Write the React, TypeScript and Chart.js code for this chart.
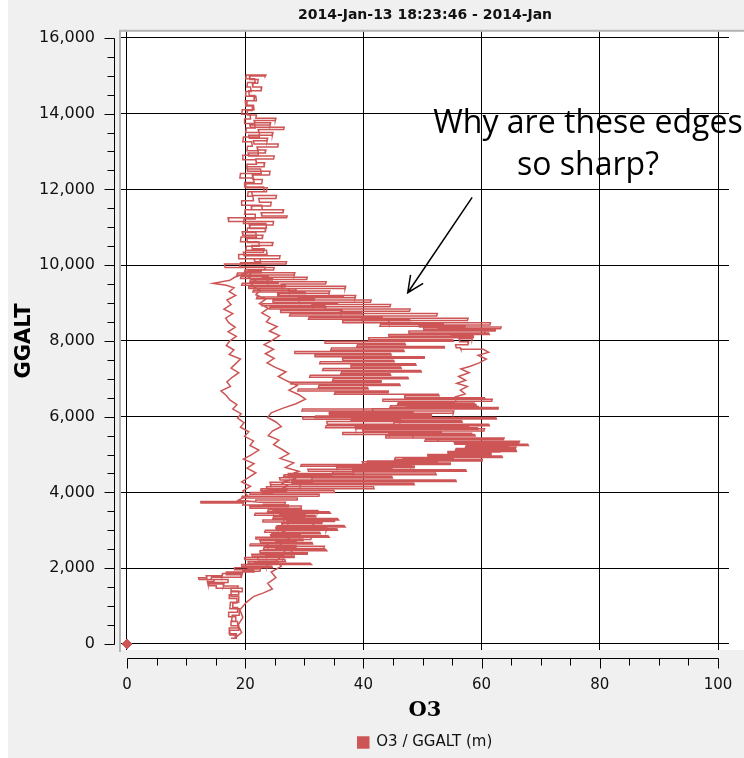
import React, { useEffect, useRef } from "react";
import { Chart, registerables } from "chart.js";

Chart.register(...registerables);

const chartTitle = "2014-Jan-13 18:23:46 - 2014-Jan";
const xAxisTitle = "O3";
const yAxisTitle = "GGALT";
const seriesLabel = "O3 / GGALT (m)";
const xTickValues = [0, 20, 40, 60, 80, 100];
const yTickValues = [0, 2000, 4000, 6000, 8000, 10000, 12000, 14000, 16000];
const xMinorTicks = [5, 10, 15, 25, 30, 35, 45, 50, 55, 65, 70, 75, 85, 90, 95];
const yMinorTicks = [500, 1000, 1500, 2500, 3000, 3500, 4500, 5000, 5500, 6500, 7000, 7500, 8500, 9000, 9500, 10500, 11000, 11500, 12500, 13000, 13500, 14500, 15000, 15500];
const originMarker: [number, number][] = [[0, 0]];
const noteLines = ["Why are these edges", "so sharp?"];
const noteO3 = 78;
const noteAlts = [13483, 12371];
const arrowFrom: [number, number] = [58.4, 11788];
const arrowTo: [number, number] = [47.5, 9272];

// [O3, GGALT]  — climb out near the ground
const legGround: [number, number][] = [
  [17.6,150],[18.5,150],[18.5,270],[17.3,270],[17.3,420],[18.8,420],[18.7,590],[17.7,590],[17.8,760],[19.1,760],
  [19.0,930],[17.4,930],[17.5,1100],[18.9,1100],[18.9,1250],[17.6,1250],[17.6,1380],[19.6,1380],[19.5,1470],[15.2,1470],
  [15.1,1540],[13.8,1540],[13.9,1620],[17.2,1620],[17.1,1700],[14.2,1700],[14.3,1760],[19.4,1760],[19.3,1830],[16.8,1830],
  [16.8,1900],[21.5,1900],[21.4,1960],[18.2,1960],
];

// lower troposphere, 2 to 3.8 km
const legLowFill: [number, number][] = [
  [18.2,2010],[24.6,2010],[24.5,2050],[19.3,2050],[19.4,2100],[31.2,2100],[31.0,2130],[20.6,2130],[20.5,2180],[26.8,2180],
  [26.7,2230],[19.8,2230],[19.9,2280],[28.4,2280],[28.3,2320],[21.2,2320],[21.1,2370],[30.6,2370],[30.5,2410],[22.4,2410],
  [22.5,2460],[33.8,2460],[33.6,2500],[23.1,2500],[23.2,2550],[28.7,2550],[28.6,2590],[20.8,2590],[20.9,2640],[31.4,2640],
  [31.3,2680],[22.6,2680],[22.5,2730],[29.9,2730],[29.8,2770],[21.7,2770],[21.8,2820],[34.2,2820],[34.0,2860],[24.4,2860],
  [24.5,2910],[32.7,2910],[32.6,2950],[23.3,2950],[23.4,3000],[35.6,3000],[35.5,3040],[25.1,3040],[25.2,3090],[36.9,3090],
  [36.7,3130],[26.3,3130],[26.2,3180],[33.1,3180],[33.0,3220],[22.9,3220],[23.0,3270],[35.8,3270],[35.6,3310],[24.7,3310],
  [24.8,3360],[31.9,3360],[31.8,3400],[21.6,3400],[21.7,3450],[34.4,3450],[34.2,3490],[23.8,3490],[23.9,3540],[29.6,3540],
  [29.5,3580],[20.7,3580],[20.8,3630],[27.4,3630],[27.3,3670],[19.6,3670],[19.7,3720],[12.4,3720],[12.5,3760],[21.8,3760],
];

// main climb through the ozone-rich layer
const legMidClimb: [number, number][] = [
  [21.8,3800],[28.9,3800],[28.8,3850],[19.4,3850],[19.5,3900],[32.6,3900],[32.5,3950],[20.8,3950],[20.9,4000],[35.1,4000],
  [35.0,4050],[22.6,4050],[22.7,4100],[41.8,4100],[41.7,4150],[24.3,4150],[24.4,4200],[48.6,4200],[48.5,4240],[27.8,4240],
  [27.9,4290],[55.7,4290],[55.6,4330],[31.2,4330],[31.3,4380],[44.9,4380],[44.8,4420],[26.5,4420],[26.6,4470],[52.3,4470],
  [52.2,4510],[34.7,4510],[34.8,4560],[57.4,4560],[57.3,4600],[38.1,4600],[38.2,4650],[48.7,4650],[48.6,4690],[29.4,4690],
  [29.5,4740],[54.8,4740],[54.7,4780],[40.6,4780],[40.7,4830],[60.2,4830],[60.1,4870],[45.3,4870],[45.4,4920],[63.5,4920],
  [63.4,4960],[50.8,4960],[50.9,5000],[61.7,5000],[61.6,5040],[54.2,5040],[54.3,5080],[65.9,5080],[65.8,5120],[55.6,5120],
  [55.7,5160],[64.1,5160],[64.0,5200],[57.3,5200],[57.4,5240],[67.9,5240],[67.8,5270],[56.8,5270],[56.9,5310],[65.2,5310],
  [65.1,5350],[50.4,5350],[50.5,5400],[62.6,5400],[62.5,5440],[43.7,5440],[43.8,5490],[58.9,5490],[58.8,5530],[36.4,5530],
  [36.5,5580],[53.2,5580],[53.1,5620],[39.8,5620],[39.9,5670],[59.4,5670],[59.3,5710],[33.6,5710],[33.7,5760],[61.3,5760],
  [61.2,5800],[45.1,5800],[45.2,5850],[56.7,5850],[56.6,5890],[37.9,5890],[38.0,5940],[62.5,5940],[62.4,5980],[31.8,5980],
  [31.9,6020],[51.6,6020],[51.5,6060],[34.2,6060],[34.3,6110],[48.4,6110],[48.3,6150],[29.6,6150],[29.7,6200],[62.9,6200],
  [62.8,6240],[44.5,6240],[44.6,6290],[59.1,6290],[59.0,6330],[45.8,6330],[45.9,6370],[55.4,6370],[55.3,6410],[43.2,6410],
  [43.3,6460],[60.6,6460],[60.5,6500],[46.9,6500],[47.0,6550],[52.8,6550],[52.7,6590],[35.1,6590],[35.2,6640],[44.3,6640],
  [44.2,6680],[28.9,6680],[29.0,6730],[40.8,6730],[40.7,6770],[32.4,6770],[32.5,6820],[46.2,6820],[46.1,6860],[27.6,6860],
  [27.7,6910],[43.1,6910],[43.0,6950],[34.8,6950],[34.9,7000],[47.6,7000],[47.5,7040],[30.9,7040],[31.0,7090],[44.6,7090],
  [44.5,7130],[36.2,7130],[36.3,7180],[49.8,7180],[49.7,7220],[33.1,7220],[33.2,7270],[46.4,7270],[46.3,7310],[37.8,7310],
  [37.9,7360],[48.9,7360],[48.8,7400],[32.6,7400],[32.7,7450],[45.2,7450],[45.1,7490],[36.4,7490],[36.5,7540],[50.4,7540],
  [50.3,7580],[31.7,7580],[31.8,7630],[44.7,7630],[44.6,7670],[28.3,7670],[28.4,7720],[46.9,7720],[46.8,7760],[34.5,7760],
  [34.6,7810],[53.8,7810],[53.7,7850],[38.9,7850],[39.0,7900],[47.1,7900],[47.0,7940],[33.4,7940],[33.5,7990],[55.2,7990],
  [55.1,8030],[40.8,8030],[40.9,8080],[58.7,8080],[58.6,8120],[44.2,8120],[44.3,8170],[61.3,8170],[61.2,8210],[47.6,8210],
  [47.7,8260],[62.4,8260],[62.3,8300],[50.1,8300],[50.2,8350],[57.3,8350],[57.2,8390],[42.8,8390],[42.9,8440],[53.6,8440],
  [53.5,8480],[36.4,8480],[36.5,8530],[47.9,8530],[47.8,8570],[30.7,8570],[30.8,8620],[43.2,8620],[43.1,8660],[27.5,8660],
  [27.6,8710],[39.8,8710],[39.7,8750],[25.9,8750],[26.0,8800],[36.4,8800],[36.3,8840],[24.1,8840],[24.2,8890],[33.6,8890],
  [33.5,8930],[22.8,8930],[22.9,8980],[35.7,8980],[35.6,9020],[24.6,9020],[24.7,9070],[31.8,9070],[31.7,9110],[21.9,9110],
  [22.0,9160],[36.6,9160],[36.5,9200],[25.4,9200],[25.5,9250],[30.2,9250],[30.1,9290],[21.3,9290],[21.4,9340],[28.7,9340],
  [28.6,9380],[20.5,9380],[20.6,9430],[26.9,9430],[26.8,9470],[19.4,9470],[19.5,9520],[25.6,9520],[25.5,9560],[20.8,9560],
  [20.9,9610],[24.7,9610],[24.6,9650],[19.2,9650],[19.3,9700],[23.9,9700],[23.8,9740],[18.6,9740],[18.7,9790],[22.8,9790],
  [22.7,9830],[19.9,9830],[20.0,9880],[23.4,9880],
];

// upper climb to ceiling
const legUpperClimb: [number, number][] = [
  [23.3,9950],[19.1,9950],[19.2,10060],[22.6,10060],[22.5,10170],[18.8,10170],[18.9,10280],[23.7,10280],[23.6,10390],[20.1,10390],
  [20.2,10500],[22.4,10500],[22.3,10620],[19.2,10620],[19.3,10740],[21.9,10740],[21.8,10860],[20.3,10860],[20.4,10980],[23.6,10980],
  [23.5,11100],[19.7,11100],[19.8,11220],[21.8,11220],[21.7,11340],[19.9,11340],[20.0,11460],[22.9,11460],[22.8,11580],[19.3,11580],
  [19.4,11700],[21.4,11700],[21.3,11820],[20.4,11820],[20.5,11940],[23.2,11940],[23.1,12060],[19.8,12060],[19.9,12180],[21.5,12180],
  [21.4,12300],[19.1,12300],[19.2,12420],[22.7,12420],[22.6,12540],[20.2,12540],[20.3,12660],[21.9,12660],[21.8,12780],[19.5,12780],
  [19.6,12900],[22.3,12900],[22.2,13020],[20.3,13020],[20.4,13140],[21.2,13140],[21.1,13260],[19.6,13260],[19.7,13380],[22.5,13380],
  [22.4,13500],[20.1,13500],[20.2,13620],[21.7,13620],[21.6,13740],[19.8,13740],[19.9,13860],[20.9,13860],[20.8,13980],[19.4,13980],
  [19.5,14100],[21.5,14100],[21.4,14220],[20.2,14220],[20.3,14340],[21.9,14340],[21.8,14460],[20.0,14460],[20.1,14580],[21.0,14580],
  [20.9,14700],[20.3,14700],[20.4,14820],[21.7,14820],[21.6,14920],[20.1,14920],[20.2,15020],[23.5,15020],
];

// descent through the centre and down the right-hand edge
const legDescent: [number, number][] = [
  [23.4,14990],[20.7,14990],[20.8,14900],[22.2,14900],[22.1,14800],[21.2,14800],[21.3,14700],[22.8,14700],[22.7,14600],[20.6,14600],
  [20.7,14480],[21.6,14480],[21.5,14340],[20.0,14340],[20.1,14200],[21.3,14200],[21.2,14080],[20.3,14080],[20.4,13960],[21.9,13960],
  [21.8,13880],[25.2,13880],[25.1,13820],[21.5,13820],[21.6,13760],[24.3,13760],[24.2,13700],[20.8,13700],[20.9,13640],[26.6,13640],
  [26.5,13580],[22.2,13580],[22.3,13500],[24.7,13500],[24.6,13430],[20.6,13430],[20.7,13350],[23.8,13350],[23.7,13280],[21.4,13280],
  [21.5,13200],[25.6,13200],[25.5,13120],[22.0,13120],[22.1,13040],[23.5,13040],[23.4,12960],[20.5,12960],[20.6,12880],[24.9,12880],
  [24.8,12800],[21.8,12800],[21.9,12700],[23.3,12700],[23.2,12600],[20.3,12600],[20.4,12480],[24.2,12480],[24.1,12380],[21.2,12380],
  [21.3,12260],[22.9,12260],[22.8,12150],[20.0,12150],[20.1,12040],[23.7,12040],[23.6,11940],[21.1,11940],[21.2,11840],[25.3,11840],
  [25.2,11760],[22.3,11760],[22.4,11660],[24.4,11660],[24.3,11560],[21.0,11560],[21.1,11460],[26.5,11460],[26.4,11380],[22.7,11380],
  [22.8,11300],[27.1,11300],[27.0,11250],[17.1,11250],[17.2,11150],[24.8,11150],[24.7,11060],[20.7,11060],[20.8,10970],[23.5,10970],
  [23.4,10880],[19.5,10880],[19.6,10790],[23.0,10790],[22.9,10700],[20.3,10700],[20.4,10600],[24.7,10600],[24.6,10520],[21.1,10520],
  [21.2,10430],[23.2,10430],[23.1,10340],[19.7,10340],[19.8,10250],[25.9,10250],[25.8,10170],[21.5,10170],[21.6,10090],[27.0,10090],
  [26.9,10030],[16.5,10030],[16.6,9940],[24.9,9940],[24.8,9870],[20.6,9870],[20.7,9800],[28.4,9800],[28.3,9740],[22.8,9740],
  [22.9,9680],[30.5,9680],[30.4,9620],[23.7,9620],[23.8,9560],[33.7,9560],[33.6,9500],[26.1,9500],[26.2,9440],[37.0,9440],
  [36.9,9380],[27.3,9380],[27.4,9320],[34.3,9320],[34.2,9260],[25.7,9260],[25.8,9200],[38.7,9200],[38.6,9140],[29.0,9140],
  [29.1,9080],[41.3,9080],[41.2,9020],[31.2,9020],[31.3,8960],[44.6,8960],[44.5,8900],[33.5,8900],[33.6,8840],[47.9,8840],
  [47.8,8780],[36.1,8780],[36.2,8720],[52.5,8720],[52.4,8660],[39.6,8660],[39.7,8600],[57.7,8600],[57.6,8540],[44.2,8540],
  [44.3,8480],[61.5,8480],[61.4,8420],[49.4,8420],[49.5,8370],[63.3,8370],[63.2,8320],[52.7,8320],[52.8,8260],[60.6,8260],
  [60.5,8200],[54.8,8200],[54.9,8130],[58.5,8130],[58.4,8060],[56.2,8060],[56.3,7980],[57.8,7980],[57.7,7900],[55.6,7900],
  [55.7,7820],[56.4,7820],[56.5,7780],[60.3,7780],[61.2,7700],[59.4,7620],[60.8,7520],[59.6,7420],[58.1,7330],[56.5,7260],
  [57.9,7160],[56.1,7060],[57.3,6960],[55.8,6880],[57.6,6800],[56.4,6700],[57.2,6600],[55.5,6520],[55.6,6460],[61.8,6460],
  [61.7,6410],[48.6,6410],[48.7,6360],[58.7,6360],[58.6,6320],[47.2,6320],[47.3,6270],[59.4,6270],[59.3,6210],[41.5,6210],
  [41.6,6150],[55.3,6150],[55.2,6090],[34.2,6090],[34.3,6040],[50.6,6040],[50.5,5990],[29.7,5990],[29.8,5930],[46.3,5930],
  [46.2,5870],[33.8,5870],[33.9,5800],[57.9,5800],[57.8,5740],[38.6,5740],[38.7,5680],[60.5,5680],[60.4,5620],[44.2,5620],
  [44.3,5560],[58.3,5560],[58.2,5500],[48.3,5500],[48.4,5440],[63.8,5440],[63.7,5400],[52.6,5400],[52.7,5350],[66.4,5350],
  [66.3,5310],[55.4,5310],[55.5,5270],[64.7,5270],[64.6,5230],[58.1,5230],[58.2,5190],[65.8,5190],[65.7,5150],[59.3,5150],
  [59.4,5110],[63.2,5110],[63.1,5070],[57.6,5070],[57.7,5030],[60.1,5030],[60.0,4990],[53.4,4990],[53.5,4940],[55.3,4940],
  [55.2,4900],[46.7,4900],[46.8,4850],[52.6,4850],[52.5,4810],[39.8,4810],[39.9,4760],[48.2,4760],[48.1,4710],[35.4,4710],
  [35.5,4660],[44.9,4660],[44.8,4610],[30.6,4610],[30.7,4560],[38.4,4560],[38.3,4500],[27.3,4500],[27.4,4440],[34.6,4440],
  [34.5,4390],[25.8,4390],[25.9,4330],[31.5,4330],[31.4,4270],[24.2,4270],[24.3,4210],[29.4,4210],[29.3,4150],[23.6,4150],
  [23.7,4090],[27.1,4090],[27.0,4040],[22.8,4040],[22.9,3980],[24.5,3980],
];

// climb along the inner strand
const legInner: [number, number][] = [
  [25.6,4060],[27.2,4160],[26.1,4260],[28.4,4360],[27.3,4460],[29.1,4560],[26.8,4660],[28.2,4780],[25.9,4900],[27.4,5020],
  [26.2,5140],[24.8,5260],[25.7,5380],[23.9,5500],[24.6,5620],[26.1,5740],[25.2,5860],[23.8,5980],[24.4,6100],[26.3,6220],
  [28.6,6340],[30.2,6460],[29.1,6580],[27.4,6700],[28.8,6820],[27.1,6940],[25.6,7060],[26.9,7180],[25.1,7300],[23.7,7420],
  [24.9,7540],[23.4,7660],[24.8,7780],[23.2,7900],[24.6,8020],[25.8,8140],[24.1,8260],[25.4,8380],[23.6,8500],[24.2,8620],
  [22.8,8740],[23.9,8860],[22.4,8980],[23.5,9100],[21.8,9220],[22.6,9340],[20.9,9460],[21.7,9580],[20.4,9700],[21.2,9820],
];

// descent along the left-hand strand
const legLeft: [number, number][] = [
  [19.6,9760],[18.2,9680],[17.4,9600],[14.6,9520],[16.8,9470],[18.1,9400],[17.3,9300],[18.4,9200],[16.9,9080],[17.6,8960],
  [16.4,8840],[17.9,8720],[16.7,8600],[17.2,8480],[18.3,8360],[17.1,8240],[18.5,8120],[17.4,8000],[16.8,7880],[18.1,7760],
  [17.3,7640],[19.2,7520],[18.4,7400],[17.6,7280],[18.9,7160],[17.8,7040],[16.9,6920],[17.5,6800],[15.9,6680],[16.8,6560],
  [17.4,6440],[18.6,6320],[17.9,6200],[19.3,6080],[18.7,5960],[19.8,5840],[19.2,5720],[20.6,5600],[19.9,5480],[21.4,5360],
  [20.8,5240],[22.3,5120],[21.1,5000],[19.7,4880],[21.5,4760],[20.3,4640],[21.8,4520],[20.6,4400],[19.4,4280],[20.9,4160],
  [19.6,4040],[20.4,3920],[18.9,3800],
];

// final descent to the ground
const legLower: [number, number][] = [
  [22.4,3740],[26.8,3740],[26.7,3690],[23.1,3690],[23.2,3640],[29.5,3640],[29.4,3580],[24.6,3580],[24.7,3520],[32.3,3520],
  [32.2,3470],[25.8,3470],[25.9,3410],[30.1,3410],[30.0,3350],[26.4,3350],[26.5,3290],[35.2,3290],[35.1,3230],[27.1,3230],
  [27.2,3180],[31.6,3180],[31.5,3120],[25.4,3120],[25.5,3060],[33.8,3060],[33.7,3000],[26.6,3000],[26.7,2940],[29.4,2940],
  [29.3,2880],[24.3,2880],[24.4,2820],[31.2,2820],[31.1,2760],[25.1,2760],[25.2,2700],[28.6,2700],[28.5,2640],[23.7,2640],
  [23.8,2580],[33.4,2580],[33.3,2520],[25.2,2520],[25.3,2460],[27.9,2460],[27.8,2400],[23.4,2400],[23.5,2340],[26.5,2340],
  [26.4,2280],[22.1,2280],[22.2,2220],[25.3,2220],[25.2,2160],[21.6,2160],[21.7,2100],[23.8,2100],[23.7,2040],[20.4,2040],
  [20.5,1980],[22.6,1980],[22.5,1920],[19.6,1920],[19.5,1860],[16.2,1860],[16.1,1800],[13.4,1800],[13.5,1750],[12.1,1750],
  [12.2,1700],[14.8,1700],[14.7,1650],[13.6,1650],[13.7,1580],[16.4,1580],[16.3,1530],[18.8,1530],[18.7,1480],[17.6,1480],
  [17.6,1400],[18.9,1400],[18.9,1300],[17.3,1300],[17.3,1200],[18.6,1200],[18.6,1080],[17.9,1080],[17.9,960],[18.7,960],
  [18.7,840],[17.2,840],[17.2,720],[18.4,720],[18.4,600],[17.6,600],[17.6,480],[18.9,480],[18.9,360],[17.4,360],
  [17.4,240],[18.3,240],[18.3,160],
];

// short climb along the 25 strand
const legClimb: [number, number][] = [
  [19.4,300],[18.8,500],[19.6,700],[19.1,900],[20.2,1100],[21.4,1250],[23.1,1350],[24.6,1450],[23.8,1600],[25.2,1750],
  [24.4,1900],[26.1,2050],[25.3,2200],[26.8,2400],[25.9,2600],[27.4,2800],[26.2,3000],
];

const flightLegs = [legGround, legLowFill, legMidClimb, legUpperClimb, legDescent, legInner, legLeft, legLower, legClimb];

const RED = "#cd5555";

const framePlugin = {
  id: "frame",
  beforeDraw(chart: any) {
    const { ctx, chartArea: a, width, height } = chart;
    ctx.save();
    ctx.fillStyle = "#f0f0f0";
    ctx.fillRect(0, 0, width, height);
    ctx.fillStyle = "#ffffff";
    ctx.fillRect(a.left, a.top, width - a.left, a.bottom - a.top);
    ctx.strokeStyle = "#b4b4b4";
    ctx.lineWidth = 2;
    ctx.beginPath();
    ctx.moveTo(a.left - 1, a.bottom + 2);
    ctx.lineTo(a.left - 1, a.top - 1);
    ctx.lineTo(width, a.top - 1);
    ctx.stroke();
    ctx.restore();
  },
  afterDraw(chart: any) {
    const { ctx, chartArea: a } = chart;
    const xs = chart.scales.x;
    const ys = chart.scales.y;
    ctx.save();
    ctx.strokeStyle = "#000";
    ctx.lineWidth = 1;
    // y axis
    const ax = Math.round(a.left - 7) + 0.5;
    const yTop = ys.getPixelForValue(yTickValues[yTickValues.length - 1]);
    const yBot = ys.getPixelForValue(yTickValues[0]);
    ctx.beginPath();
    ctx.moveTo(ax, Math.round(yTop) + 0.5);
    ctx.lineTo(ax, Math.round(yBot) + 0.5);
    yTickValues.forEach((v) => {
      const p = Math.round(ys.getPixelForValue(v)) + 0.5;
      ctx.moveTo(ax - 10, p);
      ctx.lineTo(ax, p);
    });
    yMinorTicks.forEach((v) => {
      const p = Math.round(ys.getPixelForValue(v)) + 0.5;
      ctx.moveTo(ax - 7, p);
      ctx.lineTo(ax, p);
    });
    // x axis
    const ay = Math.round(a.bottom + 8) + 0.5;
    const xL = xs.getPixelForValue(xTickValues[0]);
    const xR = xs.getPixelForValue(xTickValues[xTickValues.length - 1]);
    ctx.moveTo(Math.round(xL) + 0.5, ay);
    ctx.lineTo(Math.round(xR) + 0.5, ay);
    xTickValues.forEach((v) => {
      const p = Math.round(xs.getPixelForValue(v)) + 0.5;
      ctx.moveTo(p, ay);
      ctx.lineTo(p, ay + 10);
    });
    xMinorTicks.forEach((v) => {
      const p = Math.round(xs.getPixelForValue(v)) + 0.5;
      ctx.moveTo(p, ay);
      ctx.lineTo(p, ay + 7);
    });
    ctx.stroke();

    // annotation
    ctx.fillStyle = "#000";
    ctx.font = "32px 'Open Sans'";
    ctx.textAlign = "center";
    ctx.textBaseline = "alphabetic";
    noteLines.forEach((t, i) => {
      ctx.fillText(t, xs.getPixelForValue(noteO3), ys.getPixelForValue(noteAlts[i]));
    });
    const x1 = xs.getPixelForValue(arrowFrom[0]);
    const y1 = ys.getPixelForValue(arrowFrom[1]);
    const x2 = xs.getPixelForValue(arrowTo[0]);
    const y2 = ys.getPixelForValue(arrowTo[1]);
    const ang = Math.atan2(y1 - y2, x1 - x2);
    const wing = 18;
    const spread = (25 * Math.PI) / 180;
    ctx.lineWidth = 1.5;
    ctx.beginPath();
    ctx.moveTo(x1, y1);
    ctx.lineTo(x2, y2);
    ctx.moveTo(x2 + wing * Math.cos(ang + spread), y2 + wing * Math.sin(ang + spread));
    ctx.lineTo(x2, y2);
    ctx.lineTo(x2 + wing * Math.cos(ang - spread), y2 + wing * Math.sin(ang - spread));
    ctx.stroke();
    ctx.restore();
  },
};

export default function App() {
  const ref = useRef<HTMLCanvasElement | null>(null);
  useEffect(() => {
    if (!ref.current) return;
    const points = flightLegs.flat().map(([o3, alt]) => ({ x: o3, y: alt }));
    const chart = new Chart(ref.current, {
      type: "scatter",
      data: {
        datasets: [
          {
            label: seriesLabel,
            data: points,
            showLine: true,
            borderColor: RED,
            backgroundColor: RED,
            borderWidth: 1.5,
            pointRadius: 0,
            tension: 0,
          },
          {
            label: "origin",
            data: originMarker.map(([o3, alt]) => ({ x: o3, y: alt })),
            showLine: false,
            pointStyle: "rectRot",
            pointRadius: 5,
            backgroundColor: RED,
            borderColor: RED,
            clip: 10,
          } as any,
        ],
      },
      options: {
        animation: false,
        responsive: false,
        layout: { padding: { left: 0, right: 15, top: 0, bottom: -2 } },
        plugins: {
          title: {
            display: true,
            text: chartTitle,
            fullSize: false,
            color: "#111",
            font: { family: "'DejaVu Sans'", size: 14, weight: "bold", lineHeight: 1.2 },
            padding: { top: 7, bottom: 8 },
          },
          legend: {
            display: true,
            position: "bottom",
            fullSize: false,
            labels: {
              filter: (item: any) => item.datasetIndex === 0,
              boxWidth: 11,
              boxHeight: 11,
              padding: 8,
              color: "#111",
              font: { family: "'DejaVu Sans'", size: 15 },
            },
          },
          tooltip: { enabled: false },
        },
        scales: {
          x: {
            type: "linear",
            min: -1.015,
            max: 101.86,
            afterBuildTicks: (s: any) => {
              s.ticks = xTickValues.map((v) => ({ value: v }));
            },
            afterFit: (s: any) => {
              s.height = 77;
            },
            border: { display: false },
            grid: { color: "#000", lineWidth: 1, tickColor: "transparent", tickLength: 20 },
            ticks: {
              color: "#111",
              padding: 6,
              font: { family: "'DejaVu Sans'", size: 15 },
              callback: (v: any) => String(v),
            },
            title: {
              display: true,
              text: xAxisTitle,
              color: "#000",
              font: { family: "'DejaVu Serif'", size: 21, weight: "bold", lineHeight: 1.2 },
              padding: { top: 0, bottom: 4 },
            },
          },
          y: {
            type: "linear",
            min: -159,
            max: 16159,
            afterBuildTicks: (s: any) => {
              s.ticks = yTickValues.map((v) => ({ value: v }));
            },
            afterFit: (s: any) => {
              s.width = 113;
            },
            border: { display: false },
            grid: { color: "#000", lineWidth: 1, tickColor: "transparent", tickLength: 18 },
            ticks: {
              color: "#111",
              padding: 8,
              font: { family: "'DejaVu Sans'", size: 16 },
              callback: (v: any) => Number(v).toLocaleString("en-US"),
            },
            title: {
              display: true,
              text: yAxisTitle,
              color: "#000",
              font: { family: "'DejaVu Sans'", size: 21, weight: "bold", lineHeight: 1.2 },
              padding: { top: 4, bottom: 0 },
            },
          },
        },
      },
      plugins: [framePlugin],
    });
    return () => chart.destroy();
  }, []);
  return (
    <div style={{ position: "fixed", left: 0, top: 0, width: 744, height: 758, background: "#fff", overflow: "hidden" }}>
      <canvas ref={ref} width={736} height={758} style={{ position: "absolute", left: 8, top: 0, width: 736, height: 758 }} />
    </div>
  );
}
